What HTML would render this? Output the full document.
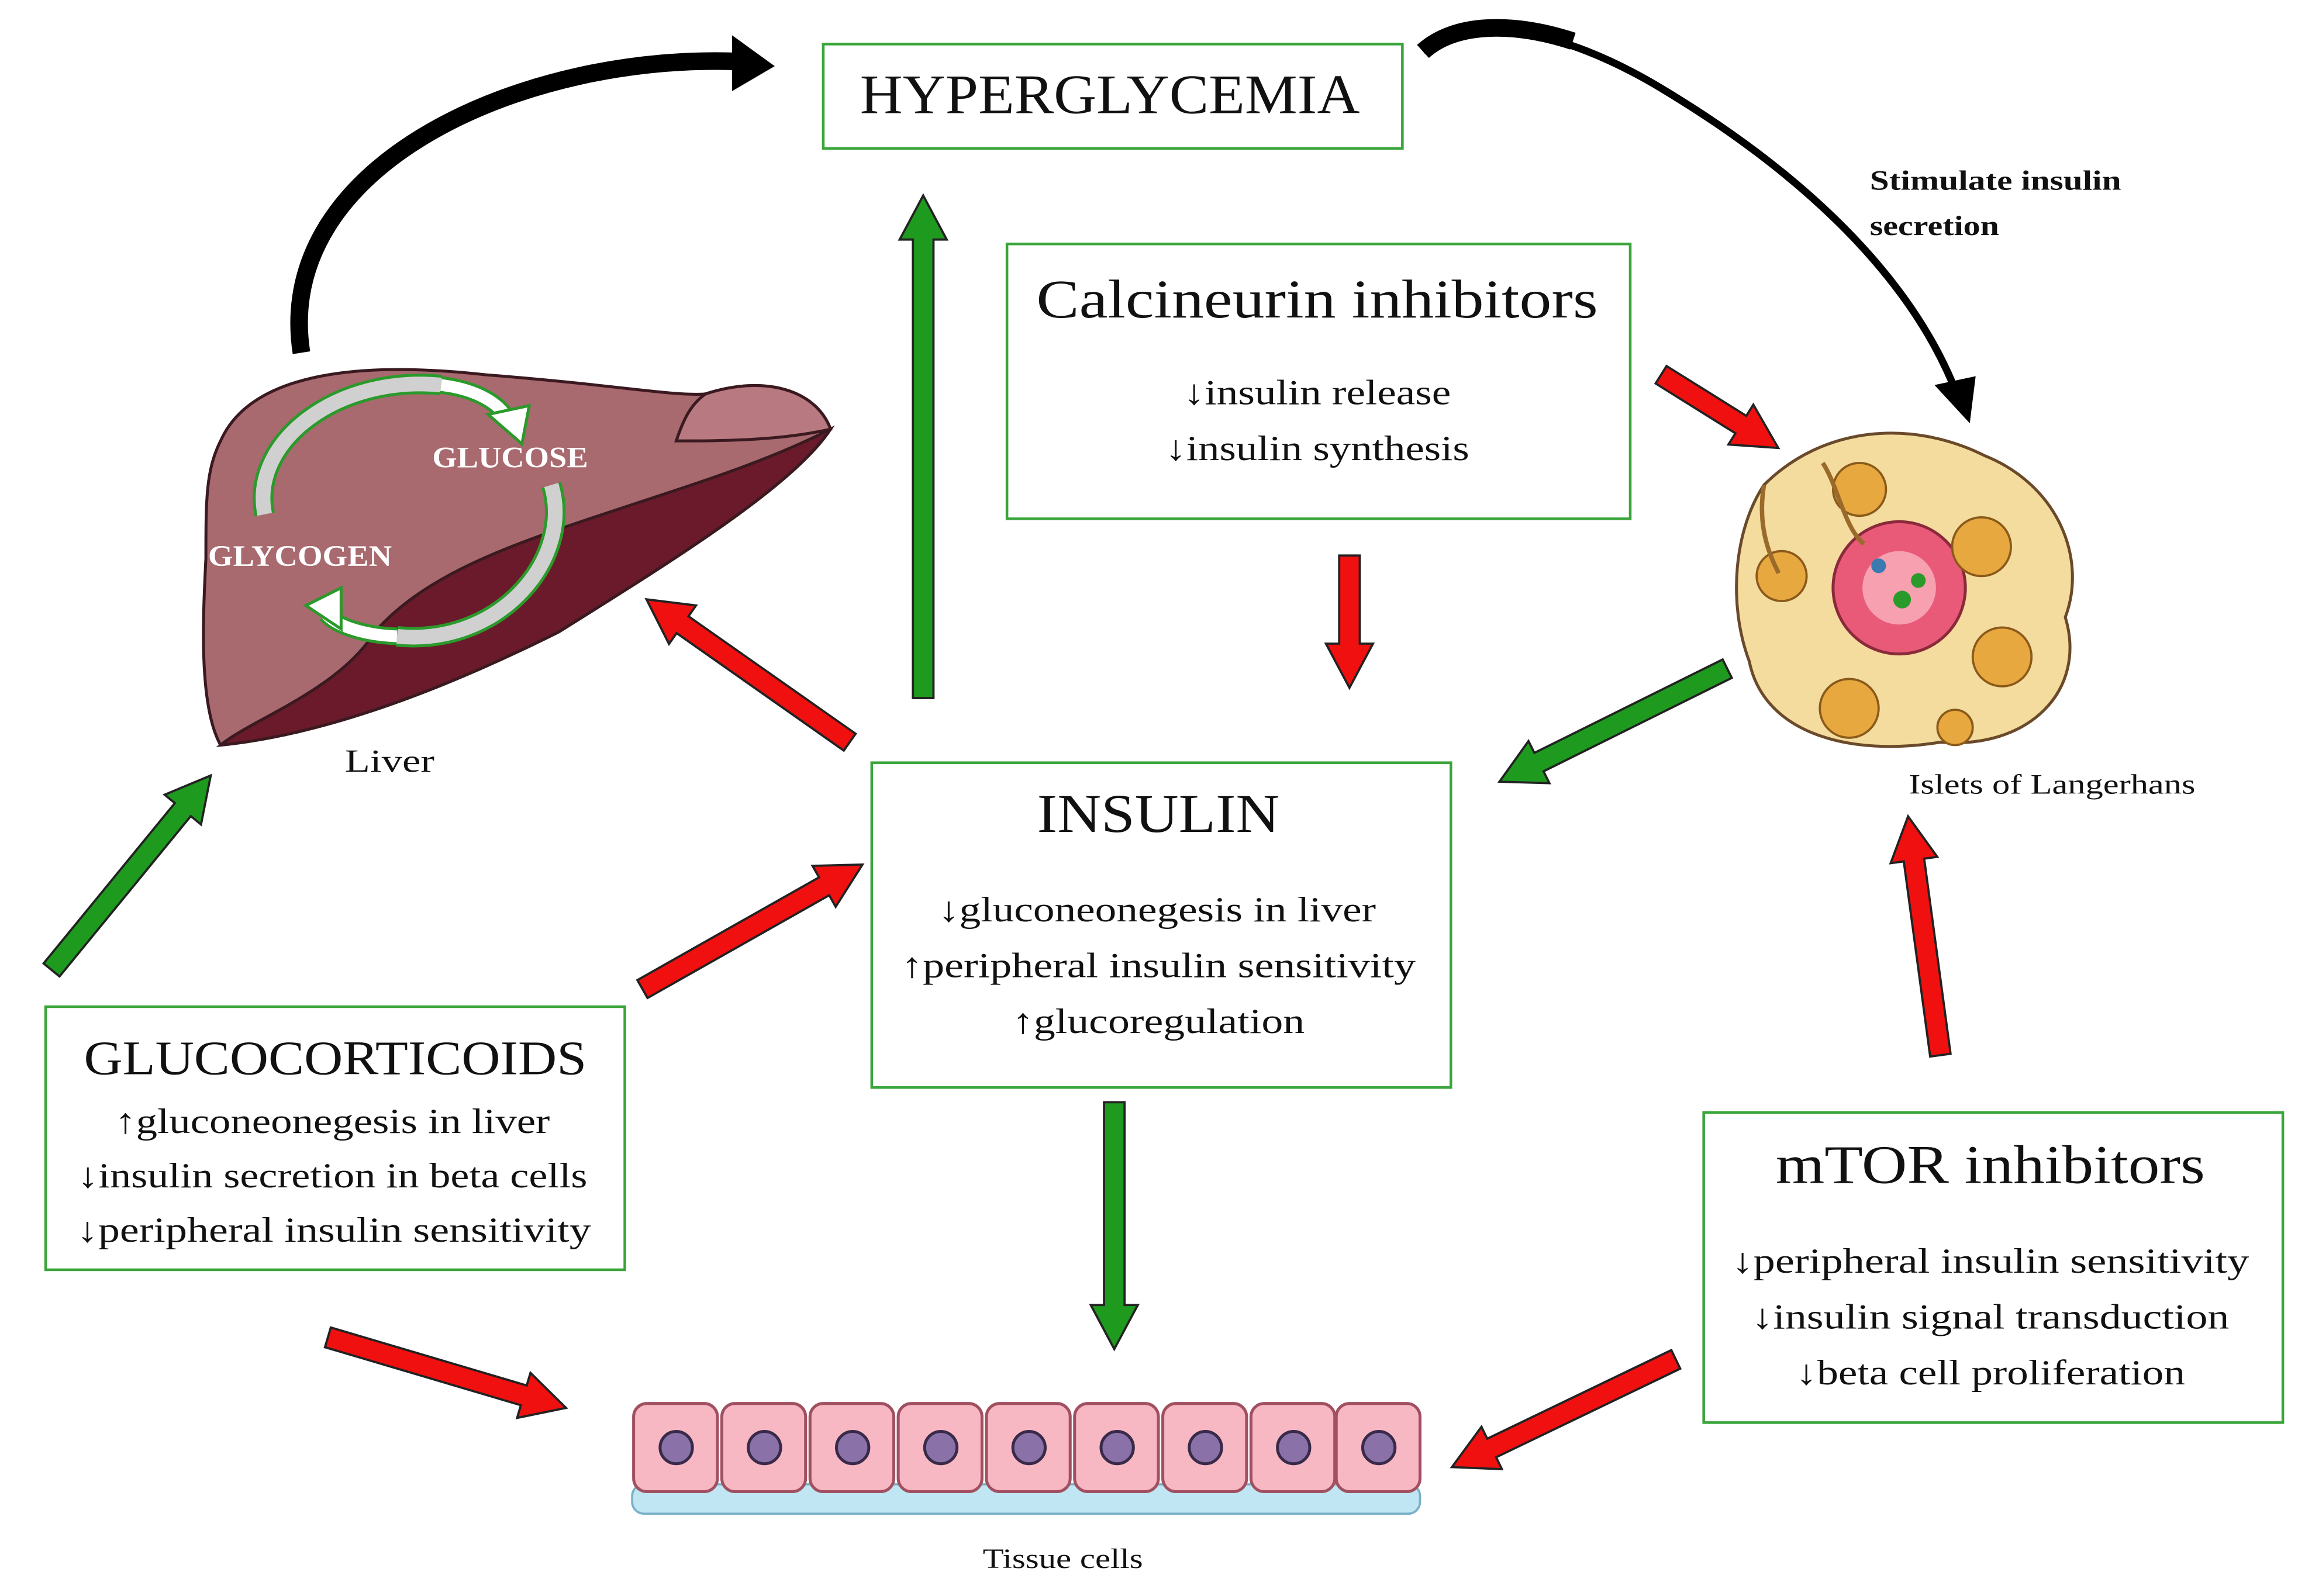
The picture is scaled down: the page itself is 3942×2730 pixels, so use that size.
<!DOCTYPE html>
<html><head><meta charset="utf-8"><style>
html,body{margin:0;padding:0;background:#fff;}
svg{display:block;}
text{font-family:"Liberation Serif",serif;fill:#111;}
</style></head><body>
<svg width="3942" height="2730" viewBox="0 0 1568 1086" xmlns="http://www.w3.org/2000/svg">
<rect width="1568" height="1086" fill="#fff"/>

<!-- Liver -->
<g stroke="#3a1a20" stroke-width="2">
<path d="M150,300 C170,255 240,245 330,255 C420,262 460,270 480,268 C520,255 555,265 565,292 C540,330 460,380 380,430 C300,470 220,500 150,507 C135,480 138,420 140,380 C140,340 140,320 150,300 Z" fill="#a8696f"/>
<path d="M565,292 C540,330 460,380 380,430 C300,470 220,500 150,507 C170,490 230,470 255,430 C290,390 350,370 410,350 C470,330 520,315 565,292 Z" fill="#6a1a2a"/>
<path d="M480,268 C520,255 555,265 565,292 C530,300 490,300 460,300 C465,285 470,275 480,268 Z" fill="#b87a80"/>
</g>
<path d="M180,350 C170,300 230,255 300,262" stroke="#2a9a2a" stroke-width="14" fill="none"/>
<path d="M180,350 C170,300 230,255 300,262" stroke="#d0d0d0" stroke-width="10" fill="none"/>
<path d="M300,262 C325,265 340,275 345,285" stroke="#2a9a2a" stroke-width="12" fill="none"/>
<path d="M300,262 C325,265 340,275 345,285" stroke="#fff" stroke-width="8" fill="none"/>
<path d="M375,330 C390,380 340,440 270,433" stroke="#2a9a2a" stroke-width="14" fill="none"/>
<path d="M375,330 C390,380 340,440 270,433" stroke="#d0d0d0" stroke-width="10" fill="none"/>
<path d="M270,433 C245,432 228,425 222,418" stroke="#2a9a2a" stroke-width="12" fill="none"/>
<path d="M270,433 C245,432 228,425 222,418" stroke="#fff" stroke-width="8" fill="none"/>
<polygon points="332,282 360,276 355,302" fill="#fff" stroke="#2a9a2a" stroke-width="2"/>
<polygon points="208,412 232,400 232,428" fill="#fff" stroke="#2a9a2a" stroke-width="2"/>
<text x="347" y="318" font-size="20" font-weight="bold" text-anchor="middle" textLength="106" lengthAdjust="spacingAndGlyphs" style="fill:#fff">GLUCOSE</text>
<text x="204" y="385" font-size="20" font-weight="bold" text-anchor="middle" textLength="125" lengthAdjust="spacingAndGlyphs" style="fill:#fff">GLYCOGEN</text>
<text x="265" y="525" font-size="22" text-anchor="middle" textLength="61" lengthAdjust="spacingAndGlyphs">Liver</text>

<!-- Islets -->
<path d="M1200,330 C1240,290 1300,285 1350,310 C1400,330 1420,380 1405,420 C1420,470 1380,510 1320,505 C1260,515 1200,500 1190,450 C1175,410 1180,360 1200,330 Z" fill="#f3dc9e" stroke="#6a4a2a" stroke-width="2"/>
<circle cx="1292" cy="400" r="45" fill="#e85a78" stroke="#8a2a3a" stroke-width="2"/>
<circle cx="1292" cy="400" r="25" fill="#f6a0b0"/>
<circle cx="1294" cy="408" r="6" fill="#2a9a2a"/><circle cx="1278" cy="385" r="5" fill="#3a7ab0"/><circle cx="1305" cy="395" r="5" fill="#2a9a2a"/>
<g fill="#e8a840" stroke="#8a5a1a" stroke-width="1.5">
<circle cx="1265" cy="333" r="18"/><circle cx="1348" cy="372" r="20"/><circle cx="1362" cy="447" r="20"/><circle cx="1258" cy="482" r="20"/><circle cx="1212" cy="392" r="17"/><circle cx="1330" cy="495" r="12"/>
</g>
<path d="M1240,315 C1250,330 1255,360 1268,370" stroke="#9a6a2a" stroke-width="3" fill="none"/>
<path d="M1200,330 C1195,360 1205,380 1210,390" stroke="#9a6a2a" stroke-width="3" fill="none"/>
<text x="1396" y="540" font-size="19" text-anchor="middle" textLength="195" lengthAdjust="spacingAndGlyphs">Islets of Langerhans</text>

<!-- Tissue cells -->
<rect x="430" y="1010" width="536" height="20" rx="8" fill="#bfe6f2" stroke="#7ab0c8" stroke-width="1.5"/>
<g stroke="#a05060" stroke-width="2" fill="#f7b8c4">
<rect x="431" y="955" width="57" height="60" rx="9"/><rect x="491" y="955" width="57" height="60" rx="9"/><rect x="551" y="955" width="57" height="60" rx="9"/><rect x="611" y="955" width="57" height="60" rx="9"/><rect x="671" y="955" width="57" height="60" rx="9"/><rect x="731" y="955" width="57" height="60" rx="9"/><rect x="791" y="955" width="57" height="60" rx="9"/><rect x="851" y="955" width="57" height="60" rx="9"/><rect x="909" y="955" width="57" height="60" rx="9"/>
</g>
<g fill="#8a72a8" stroke="#3a2a4a" stroke-width="2">
<circle cx="460" cy="985" r="11"/><circle cx="520" cy="985" r="11"/><circle cx="580" cy="985" r="11"/><circle cx="640" cy="985" r="11"/><circle cx="700" cy="985" r="11"/><circle cx="760" cy="985" r="11"/><circle cx="820" cy="985" r="11"/><circle cx="880" cy="985" r="11"/><circle cx="938" cy="985" r="11"/>
</g>
<text x="723" y="1067" font-size="19" text-anchor="middle" textLength="109" lengthAdjust="spacingAndGlyphs">Tissue cells</text>

<!-- Boxes -->
<g fill="none" stroke="#3aa53a" stroke-width="1.8">
<rect x="560" y="30" width="394" height="71"/>
<rect x="685" y="166" width="424" height="187"/>
<rect x="593" y="519" width="394" height="221"/>
<rect x="31" y="685" width="394" height="179"/>
<rect x="1159" y="757" width="394" height="211"/>
</g>
<g text-anchor="middle" lengthAdjust="spacingAndGlyphs">
<text x="755" y="77" font-size="38" textLength="340" lengthAdjust="spacingAndGlyphs">HYPERGLYCEMIA</text>
<text x="896" y="216" font-size="37" textLength="382" lengthAdjust="spacingAndGlyphs">Calcineurin inhibitors</text>
<text x="896" y="275" font-size="24" textLength="182" lengthAdjust="spacingAndGlyphs">↓insulin release</text>
<text x="896" y="313" font-size="24" textLength="207" lengthAdjust="spacingAndGlyphs">↓insulin synthesis</text>
<text x="788" y="566" font-size="37" textLength="165" lengthAdjust="spacingAndGlyphs">INSULIN</text>
<text x="787" y="627" font-size="24" textLength="298" lengthAdjust="spacingAndGlyphs">↓gluconeonegesis in liver</text>
<text x="788" y="665" font-size="24" textLength="350" lengthAdjust="spacingAndGlyphs">↑peripheral insulin sensitivity</text>
<text x="788" y="703" font-size="24" textLength="199" lengthAdjust="spacingAndGlyphs">↑glucoregulation</text>
<text x="228" y="731" font-size="33" textLength="342" lengthAdjust="spacingAndGlyphs">GLUCOCORTICOIDS</text>
<text x="226" y="771" font-size="24" textLength="296" lengthAdjust="spacingAndGlyphs">↑gluconeonegesis in liver</text>
<text x="226" y="808" font-size="24" textLength="347" lengthAdjust="spacingAndGlyphs">↓insulin secretion in beta cells</text>
<text x="227" y="845" font-size="24" textLength="350" lengthAdjust="spacingAndGlyphs">↓peripheral insulin sensitivity</text>
<text x="1354" y="805" font-size="37" textLength="292" lengthAdjust="spacingAndGlyphs">mTOR inhibitors</text>
<text x="1354" y="866" font-size="24" textLength="352" lengthAdjust="spacingAndGlyphs">↓peripheral insulin sensitivity</text>
<text x="1354" y="904" font-size="24" textLength="325" lengthAdjust="spacingAndGlyphs">↓insulin signal transduction</text>
<text x="1354" y="942" font-size="24" textLength="265" lengthAdjust="spacingAndGlyphs">↓beta cell proliferation</text>
</g>
<text x="1272" y="129" font-size="19" font-weight="bold" textLength="171" lengthAdjust="spacingAndGlyphs">Stimulate insulin</text>
<text x="1272" y="160" font-size="19" font-weight="bold" textLength="88" lengthAdjust="spacingAndGlyphs">secretion</text>

<!-- Block arrows -->
<g stroke="#222" stroke-width="1.5">
<g fill="#1e9a1e">
<polygon transform="translate(628,475) rotate(-90)" points="0,-7 312,-7 312,-16 342,0 312,16 312,7 0,7"/>
<polygon transform="translate(1175,455) rotate(153.6)" points="0,-7 143,-7 143,-16 173,0 143,16 143,7 0,7"/>
<polygon transform="translate(35,660) rotate(-50.7)" points="0,-7 141,-7 141,-16 171,0 141,16 141,7 0,7"/>
<polygon transform="translate(758,750) rotate(90)" points="0,-7 138,-7 138,-16 168,0 138,16 138,7 0,7"/>
</g>
<g fill="#f01010">
<polygon transform="translate(918,378) rotate(90)" points="0,-7 60,-7 60,-16 90,0 60,16 60,7 0,7"/>
<polygon transform="translate(578,505) rotate(215.1)" points="0,-7 139,-7 139,-16 169,0 139,16 139,7 0,7"/>
<polygon transform="translate(1320,718) rotate(262.3)" points="0,-7 134,-7 134,-16 164,0 134,16 134,7 0,7"/>
<polygon transform="translate(1130,255) rotate(32)" points="0,-7 64,-7 64,-16 94,0 64,16 64,7 0,7"/>
<polygon transform="translate(437,673) rotate(-29.5)" points="0,-7 142,-7 142,-16 172,0 142,16 142,7 0,7"/>
<polygon transform="translate(223,910) rotate(16.5)" points="0,-7 139,-7 139,-16 169,0 139,16 139,7 0,7"/>
<polygon transform="translate(1140,925) rotate(154.3)" points="0,-7 139,-7 139,-16 169,0 139,16 139,7 0,7"/>
</g>
</g>

<!-- Black curved arrows -->
<path d="M205,240 C185,110 360,35 505,42" stroke="#000" stroke-width="12" fill="none"/>
<polygon points="498,24 527,45 498,62" fill="#000"/>
<path d="M968,35 C1000,10 1060,18 1130,60 C1230,120 1300,190 1330,265" stroke="#000" stroke-width="5" fill="none"/>
<path d="M968,35 C990,15 1030,15 1070,28" stroke="#000" stroke-width="12" fill="none"/>
<polygon points="1316,262 1344,256 1340,288" fill="#000"/>
</svg>
</body></html>
